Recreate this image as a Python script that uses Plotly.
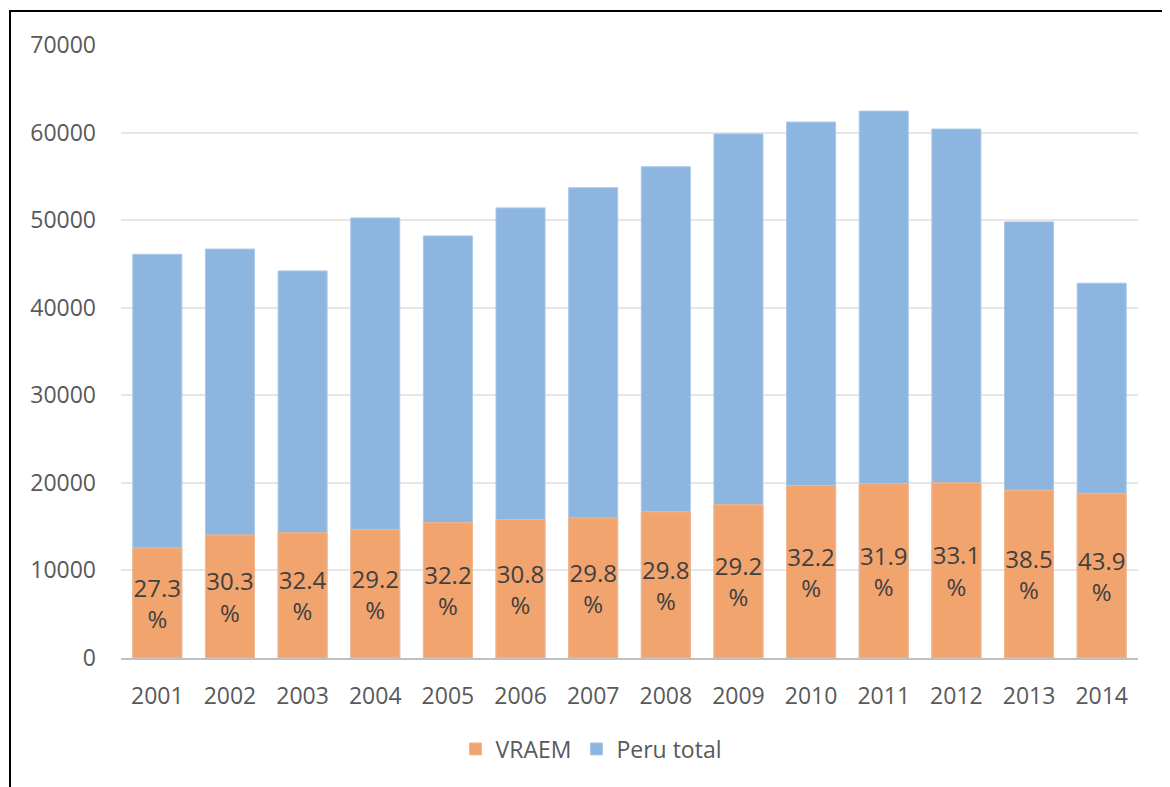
import plotly.graph_objects as go

years = ["2001", "2002", "2003", "2004", "2005", "2006", "2007",
         "2008", "2009", "2010", "2011", "2012", "2013", "2014"]
peru_total = [46100, 46700, 44200, 50250, 48200, 51400, 53700,
              56100, 59850, 61200, 62450, 60400, 49800, 42800]
vraem = [12560, 14050, 14300, 14650, 15450, 15800, 16000,
         16700, 17500, 19700, 19900, 20000, 19150, 18800]
share_labels = ["27.3", "30.3", "32.4", "29.2", "32.2", "30.8", "29.8",
                "29.8", "29.2", "32.2", "31.9", "33.1", "38.5", "43.9"]
y_ticks = [0, 10000, 20000, 30000, 40000, 50000, 60000, 70000]

FONT = "Open Sans"
OFF = 8  # default page body margin

W, H = 1170 - OFF, 787 - OFF
L, T = 121 - OFF, 45 - OFF
R = W - (1138 - OFF)
B = H - (658 - OFF)
pw, ph = W - L - R, H - T - B


def px_x(px):
    return (px - OFF - L) / pw


def px_y(py):
    return (H - B - (py - OFF)) / ph


fig = go.Figure()
fig.add_trace(go.Bar(
    x=years, y=peru_total, name="Peru total",
    marker=dict(color="#8CB6E0", line=dict(width=1, color="#A9C8E8")),
))
fig.add_trace(go.Bar(
    x=years, y=vraem, name="VRAEM",
    marker=dict(color="#F2A46E", line=dict(width=1, color="#F5B88C")),
    text=[s + "<br>%" for s in share_labels],
    textposition="inside",
    insidetextanchor="middle",
    constraintext="none",
    textangle=0,
    insidetextfont=dict(family=FONT, size=24, color="#404040"),
))

shapes = [
    dict(type="line", xref="paper", yref="paper",
         x0=px_x(10), x1=px_x(10), y0=px_y(11), y1=px_y(800),
         line=dict(color="black", width=2)),
    dict(type="line", xref="paper", yref="paper",
         x0=px_x(9), x1=px_x(1180), y0=px_y(11), y1=px_y(11),
         line=dict(color="black", width=2)),
    dict(type="line", xref="paper", yref="paper",
         x0=px_x(1168), x1=px_x(1168), y0=px_y(12), y1=px_y(800),
         line=dict(color="#C8C8C8", width=1.5)),
]

fig.update_layout(
    width=W, height=H,
    margin=dict(l=L, r=R, t=T, b=B, pad=0),
    barmode="overlay",
    bargap=0.325,
    plot_bgcolor="white",
    paper_bgcolor="white",
    font=dict(family=FONT, size=23, color="#595959"),
    showlegend=True,
    legend=dict(
        orientation="h", traceorder="reversed",
        x=px_x(591), xanchor="center",
        y=px_y(749), yanchor="middle",
        font=dict(family=FONT, size=23, color="#595959"),
        itemwidth=30,
    ),
    shapes=shapes,
)
fig.update_yaxes(
    range=[0, 70000], tickvals=y_ticks, tickformat="d",
    showgrid=True, gridcolor="#E6E6E6", gridwidth=1.5,
    zeroline=False, showline=False, ticks="",
    ticklabelstandoff=24,
    tickfont=dict(family=FONT, size=23, color="#595959"),
)
fig.update_xaxes(
    showline=True, linecolor="#BFBFBF", linewidth=2,
    ticks="", ticklabelstandoff=16,
    tickfont=dict(family=FONT, size=23, color="#595959"),
)

fig.write_html("out.html")
